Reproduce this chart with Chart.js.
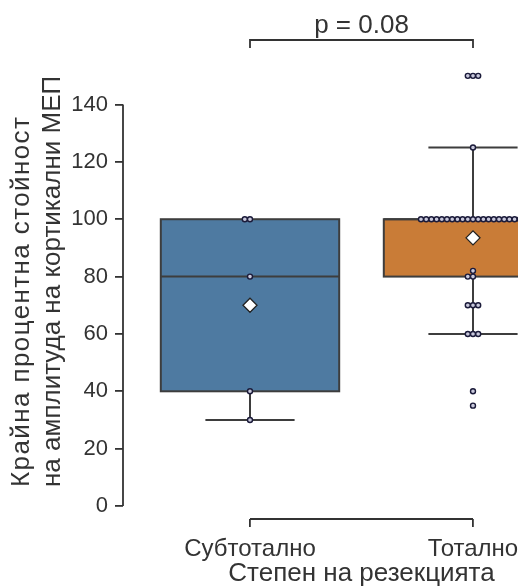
<!DOCTYPE html>
<html>
<head>
<meta charset="utf-8">
<script src="https://cdn.jsdelivr.net/npm/chart.js@4.4.1/dist/chart.umd.min.js"></script>
<style>
  html, body { margin: 0; padding: 0; background: #fff; }
  #wrap { width: 518px; height: 586px; }
</style>
</head>
<body>
<div id="wrap"><canvas id="chart"></canvas></div>
<script>
// categories and box statistics
const categories = ['Субтотално', 'Тотално'];
const boxColors = ['#4e7aa1', '#c97c37'];
const q1 = [40, 80];
const medians = [80, 100];
const q3 = [100, 100];
const whiskerLow = [30, 60];
const whiskerHigh = [100, 125];
const means = [70, 93.5];

// individual observations (swarm points)
const subtotalValues = [30, 40, 80, 100, 100];
const totalValues = [35, 40, 60, 60, 60, 70, 70, 70, 80, 80, 82,
  100, 100, 100, 100, 100, 100, 100, 100, 100, 100, 100,
  100, 100, 100, 100, 100, 100, 100, 100, 100, 100,
  125, 150, 150, 150];

const yTicks = [0, 20, 40, 60, 80, 100, 120, 140];
const yTitle = ['Крайна процентна стойност', 'на амплитуда на кортикални МЕП'];
const xTitle = 'Степен на резекцията';
const pText = 'p = 0.08';
const bracketY = 162.5;
const bracketDrop = 2.8;

const TEXT = '#333333';
const LINE = '#3d3d3d';
const FONT = '"Liberation Sans", Arial, sans-serif';

// simple beeswarm, worked out in pixels then turned back into data units
const PX_X = 223, PX_Y = 2.87, DOT = 5.2;
function swarm(values, cat) {
  const placed = [];
  values.slice().sort((a, b) => a - b).forEach(v => {
    const cands = [0];
    placed.forEach(p => {
      const dy = (v - p.v) * PX_Y;
      if (Math.abs(dy) < DOT) {
        const dx = Math.sqrt(DOT * DOT - dy * dy);
        cands.push(p.dx - dx, p.dx + dx);
      }
    });
    cands.sort((a, b) => Math.abs(a) - Math.abs(b) || a - b);
    let best = 0;
    for (const c of cands) {
      if (placed.every(p => Math.hypot(c - p.dx, (v - p.v) * PX_Y) >= DOT - 1e-6)) { best = c; break; }
    }
    placed.push({ v, dx: best });
  });
  return placed.map(p => ({ x: cat + p.dx / PX_X, y: p.v }));
}

const boxPlugin = {
  id: 'boxes',
  beforeDatasetsDraw(chart) {
    const { ctx, chartArea: a, scales: { x, y } } = chart;
    ctx.save();
    ctx.beginPath();
    ctx.rect(a.left, a.top, a.right - a.left, a.bottom - a.top);
    ctx.clip();
    ctx.strokeStyle = LINE;
    ctx.lineWidth = 2;
    categories.forEach((c, i) => {
      const l = x.getPixelForValue(i - 0.4), r = x.getPixelForValue(i + 0.4);
      const cx = x.getPixelForValue(i);
      const capL = x.getPixelForValue(i - 0.2), capR = x.getPixelForValue(i + 0.2);
      const yq1 = y.getPixelForValue(q1[i]), yq3 = y.getPixelForValue(q3[i]);
      const ylo = y.getPixelForValue(whiskerLow[i]), yhi = y.getPixelForValue(whiskerHigh[i]);
      const ymed = y.getPixelForValue(medians[i]);
      ctx.beginPath();
      ctx.moveTo(cx, yq1); ctx.lineTo(cx, ylo);
      ctx.moveTo(capL, ylo); ctx.lineTo(capR, ylo);
      if (whiskerHigh[i] > q3[i]) {
        ctx.moveTo(cx, yq3); ctx.lineTo(cx, yhi);
        ctx.moveTo(capL, yhi); ctx.lineTo(capR, yhi);
      }
      ctx.stroke();
      ctx.fillStyle = boxColors[i];
      ctx.fillRect(l, yq3, r - l, yq1 - yq3);
      ctx.strokeRect(l, yq3, r - l, yq1 - yq3);
      ctx.beginPath();
      ctx.moveTo(l, ymed); ctx.lineTo(r, ymed);
      ctx.stroke();
    });
    ctx.restore();
  },
  afterDraw(chart) {
    const { ctx, chartArea: a, scales: { x, y } } = chart;
    ctx.save();
    ctx.strokeStyle = TEXT;
    ctx.lineWidth = 1.8;
    // trimmed spines
    ctx.beginPath();
    ctx.moveTo(a.left, y.getPixelForValue(yTicks[0]));
    ctx.lineTo(a.left, y.getPixelForValue(yTicks[yTicks.length - 1]));
    ctx.moveTo(x.getPixelForValue(0), a.bottom);
    ctx.lineTo(x.getPixelForValue(categories.length - 1), a.bottom);
    ctx.stroke();
    // significance bracket
    const x0 = x.getPixelForValue(0), x1 = x.getPixelForValue(1);
    const yb = y.getPixelForValue(bracketY), yl = y.getPixelForValue(bracketY - bracketDrop);
    ctx.beginPath();
    ctx.moveTo(x0, yl); ctx.lineTo(x0, yb); ctx.lineTo(x1, yb); ctx.lineTo(x1, yl);
    ctx.stroke();
    ctx.fillStyle = TEXT;
    ctx.textAlign = 'center';
    ctx.textBaseline = 'alphabetic';
    // category labels
    ctx.font = '24px ' + FONT;
    categories.forEach((c, i) => ctx.fillText(c, x.getPixelForValue(i), a.bottom + 37));
    ctx.font = '26px ' + FONT;
    ctx.fillText(pText, (x0 + x1) / 2, yb - 7);
    // x title
    ctx.fillText(xTitle, (x0 + x1) / 2, 581);
    // y title, lines share their starting point
    ctx.translate(0, 487);
    ctx.rotate(-Math.PI / 2);
    ctx.textAlign = 'left';
    ctx.textBaseline = 'middle';
    ctx.letterSpacing = '1.4px';
    ctx.fillText(yTitle[0], 0, 22);
    ctx.letterSpacing = '0px';
    ctx.fillText(yTitle[1], 0, 53);
    ctx.restore();
  }
};

new Chart(document.getElementById('chart'), {
  type: 'scatter',
  data: {
    datasets: [
      {
        data: swarm(subtotalValues, 0).concat(swarm(totalValues, 1)),
        pointRadius: 2.5,
        pointBackgroundColor: '#c9c9dc',
        pointBorderColor: '#1b1b3a',
        pointBorderWidth: 1.4
      },
      {
        data: means.map((m, i) => ({ x: i, y: m })),
        pointStyle: 'rectRot',
        pointRadius: 7,
        pointBackgroundColor: '#ffffff',
        pointBorderColor: '#222222',
        pointBorderWidth: 1.3
      }
    ]
  },
  options: {
    responsive: true,
    maintainAspectRatio: false,
    animation: false,
    layout: { padding: 0, autoPadding: false },
    plugins: { legend: { display: false }, tooltip: { enabled: false } },
    scales: {
      x: {
        type: 'linear',
        min: -0.5695,
        max: 1.2018,
        afterFit: s => { s.height = 67; },
        afterBuildTicks: s => { s.ticks = categories.map((c, i) => ({ value: i })); },
        border: { display: false },
        grid: { drawOnChartArea: false, drawTicks: true, tickLength: 8, color: TEXT, lineWidth: 1.8 },
        ticks: { display: false }
      },
      y: {
        min: -4.53,
        max: 169.4,
        afterFit: s => { s.width = 123; },
        afterBuildTicks: s => { s.ticks = yTicks.map(v => ({ value: v })); },
        border: { display: false },
        grid: { drawOnChartArea: false, drawTicks: true, tickLength: 8, color: TEXT, lineWidth: 1.8 },
        ticks: { padding: 7, color: TEXT, font: { size: 22, family: FONT } }
      }
    }
  },
  plugins: [boxPlugin]
});
</script>
</body>
</html>
